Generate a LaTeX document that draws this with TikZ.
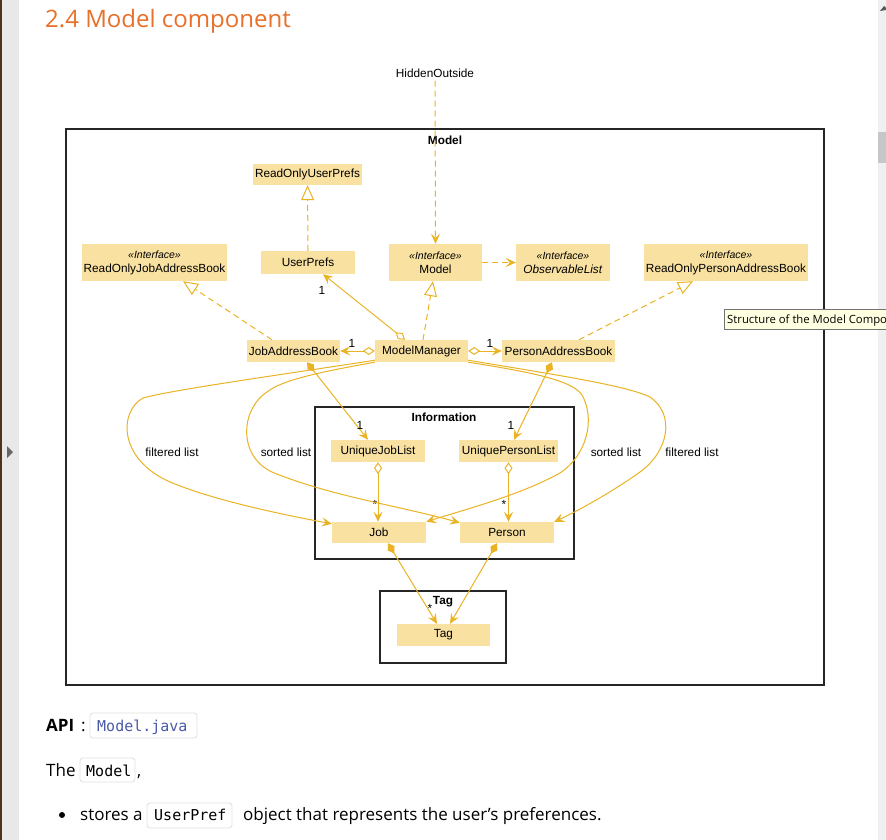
\documentclass[tikz,border=0pt]{standalone}
\usepackage{fontspec}
\setmainfont{Liberation Sans}
\newfontfamily\pagefont{Open Sans}
\newfontfamily\codefont{DejaVu Sans Mono}
\usetikzlibrary{arrows.meta,calc}
\definecolor{nfill}{HTML}{F8E1A1}
\definecolor{lc}{HTML}{E9B324}
\definecolor{headc}{HTML}{E8702A}
\definecolor{codeblue}{HTML}{4A5BA8}
\newcommand\dfont{\fontsize{11.8}{14}\selectfont}
\newcommand\ster{{\itshape\fontsize{10.5}{14}\selectfont «Interface»}}
\begin{document}
\begin{tikzpicture}[x=1pt,y=-1pt,
  cls/.style={fill=nfill, inner sep=0pt, font=\dfont, align=center},
  frm/.style={draw=black!85, line width=1.3pt},
  ttl/.style={font=\dfont\bfseries, inner sep=0pt},
  conn/.style={draw=lc, line width=1pt},
  dep/.style={conn, dash pattern=on 6pt off 4pt},
  arr/.style={-{Stealth[length=10pt,width=9pt,inset=4pt]}},
  real/.style={-{Triangle[open,length=15pt,width=13pt,fill=white]}},
  agg/.style={{Diamond[open,length=12pt,width=8pt,fill=white]}-{Stealth[length=10pt,width=9pt,inset=4pt]}},
  comp/.style={{Diamond[length=12pt,width=8pt]}-{Stealth[length=10pt,width=9pt,inset=4pt]}},
  mult/.style={font=\dfont, inner sep=0pt},
  lbl/.style={font=\dfont, inner sep=0pt},
  body/.style={font=\pagefont\fontsize{17}{20}\selectfont, inner sep=0pt, anchor=base west},
  code/.style={font=\codefont\fontsize{15}{18}\selectfont, inner sep=0pt, anchor=base west},
  codebox/.style={draw=black!12, fill=white, rounded corners=3pt, line width=0.8pt}
]
\useasboundingbox (0,0) rectangle (886,840);
\fill[white] (0,0) rectangle (886,840);
% page chrome
\fill[black!9] (0,0) rectangle (19,840);
\fill[brown!40!black] (0,0) rectangle (1.5,840);
\fill[black!60] (7,446) -- (13,452) -- (7,458) -- cycle;
\fill[black!6] (878,0) rectangle (886,840);
\fill[black!22] (878,132) rectangle (886,163);
\fill[black!65] (880,11) -- (884,6) -- (886,8) -- (886,10) -- cycle;
% heading
\node[font=\pagefont\fontsize{24}{28}\selectfont, text=headc, inner sep=0pt, anchor=base west] (head) at (45,28) {2.4 Model component};

% frames
\draw[frm] (66,129) rectangle (824,685);
\node[ttl] (tmodel) at (445,140) {Model};
\draw[frm, line width=1.1pt] (315,407) rectangle (574,559);
\node[ttl] (tinfo) at (444,417) {Information};
\draw[frm, line width=1.1pt] (380,591) rectangle (506,663);
\node[ttl] (ttag) at (443,602) {Tag};

\node[lbl] (ho) at (435,73) {HiddenOutside};

% classes
\node[cls, minimum width=109, minimum height=21] (rup) at (307.5,174.5) {ReadOnlyUserPrefs};
\node[cls, minimum width=145, minimum height=37] (rojab) at (154.5,262.5) {\ster\\ReadOnlyJobAddressBook};
\node[cls, minimum width=94, minimum height=23] (up) at (308,262.5) {UserPrefs};
\node[cls, minimum width=93, minimum height=37] (model) at (435.5,262.5) {\ster\\Model};
\node[cls, minimum width=94, minimum height=37] (obs) at (563,262.5) {\ster\\\textit{ObservableList}};
\node[cls, minimum width=164, minimum height=37] (ropab) at (726,262.5) {\ster\\ReadOnlyPersonAddressBook};
\node[cls, minimum width=93, minimum height=22] (jab) at (293.5,351) {JobAddressBook};
\node[cls, minimum width=93, minimum height=22] (mm) at (421.5,351) {ModelManager};
\node[cls, minimum width=113, minimum height=22] (pab) at (558.5,351) {PersonAddressBook};
\node[cls, minimum width=94, minimum height=22] (ujl) at (378,451) {UniqueJobList};
\node[cls, minimum width=99, minimum height=22] (upl) at (508.5,451) {UniquePersonList};
\node[cls, minimum width=94, minimum height=21] (job) at (379,532.5) {Job};
\node[cls, minimum width=94, minimum height=21] (person) at (507,532.5) {Person};
\node[cls, minimum width=93, minimum height=22] (tag) at (443.5,635) {Tag};

% dependencies / realizations
\draw[dep, arr, shorten <=3pt] (ho.south) -- (model.north);
\draw[dep, real] (up.north) -- (rup.south);
\draw[dep, arr] (model.east) -- (obs.west);
\draw[dep, real] ([xshift=1.5pt]mm.north) -- ([xshift=-2.5pt]model.south);
\draw[dep, real] ([xshift=-21.5pt]jab.north) -- ([xshift=28.5pt]rojab.south);
\draw[dep, real] ([xshift=20.5pt]pab.north) -- ([xshift=-33pt]ropab.south);

% aggregations
\draw[conn, agg] ([xshift=-16.5pt]mm.north) -- ([xshift=15pt]up.south);
\node[mult] (m1) at (322,290) {1};
\draw[conn, agg] (mm.west) -- (jab.east);
\node[mult] (m2) at (352,343) {1};
\draw[conn, agg] (mm.east) -- (pab.west);
\node[mult] (m3) at (490,343) {1};
\draw[conn, comp] ([xshift=13.5pt]jab.south) -- ([xshift=-10pt]ujl.north);
\node[mult] (m4) at (360,425) {1};
\draw[conn, comp] ([xshift=-6.5pt]pab.south) -- ([xshift=5.5pt]upl.north);
\node[mult] (m5) at (511,425) {1};
\draw[conn, agg] (ujl.south) -- (ujl.south |- job.north);
\node[mult] (m6) at (375,504) {*};
\draw[conn, agg] (upl.south) -- (upl.south |- person.north);
\node[mult] (m7) at (504,504) {*};
\draw[conn, comp] ([xshift=9pt]job.south) -- ([xshift=-6.5pt]tag.north);
\node[mult] (m8) at (430,608) {*};
\draw[conn, comp] ([xshift=-10pt]person.south) -- ([xshift=6.5pt]tag.north);

% curved list associations
\draw[conn, arr] ($(mm.south west)+(0,-2)$) .. controls (300,372) and (170,390) .. (143,398)
  .. controls (118,412) and (118,462) .. (175,484)
  .. controls (220,502) and (290,516) .. ($(job.north west)+(0,2)$);
\draw[conn, arr] (mm.south west) .. controls (320,372) and (282,380) .. (267,392)
  .. controls (240,410) and (238,456) .. (272,472)
  .. controls (330,496) and (400,506) .. ($(person.north west)+(0,1)$);
\draw[conn, arr] ($(mm.south east)+(0,-2)$) .. controls (550,374) and (625,385) .. (650,397)
  .. controls (676,415) and (668,452) .. (640,472)
  .. controls (615,490) and (580,510) .. (person.north east);
\draw[conn, arr] (mm.south east) .. controls (530,372) and (572,380) .. (582,395)
  .. controls (596,420) and (586,456) .. (560,473)
  .. controls (520,495) and (470,508) .. (job.north east);
\node[lbl] (l1) at (172,452) {filtered list};
\node[lbl] (l2) at (286,452) {sorted list};
\node[lbl] (l3) at (616,452) {sorted list};
\node[lbl] (l4) at (692,452) {filtered list};

% tooltip
\draw[fill={rgb,255:red,255;green,255;blue,225}, draw=black!55, line width=0.8pt] (724,309) rectangle (892,329);
\node[font=\pagefont\fontsize{11.3}{13}\selectfont, inner sep=0pt, anchor=base west] (tip) at (727,323) {Structure of the Model Compo};

% text below
\node[body, font=\pagefont\bfseries\fontsize{17}{20}\selectfont] (api) at (46,731) {API};
\node[body] (colon) at (81,731) {:};
\draw[codebox] (90,713) rectangle (197,738);
\node[code, text=codeblue] (c1) at (97,731) {Model.java};
\node[body] (the) at (46,776) {The};
\draw[codebox] (80,758) rectangle (135,782);
\node[code] (c2) at (86,776) {Model};
\node[body] (comma) at (137,776) {,};
\fill[black] (62,815) circle (3);
\node[body] (st) at (80,820) {stores a};
\draw[codebox] (147,803) rectangle (232,828);
\node[code] (c3) at (154,820) {UserPref};
\node[body] (rest) at (243,820) {object that represents the user’s preferences.};
\end{tikzpicture}
\end{document}
